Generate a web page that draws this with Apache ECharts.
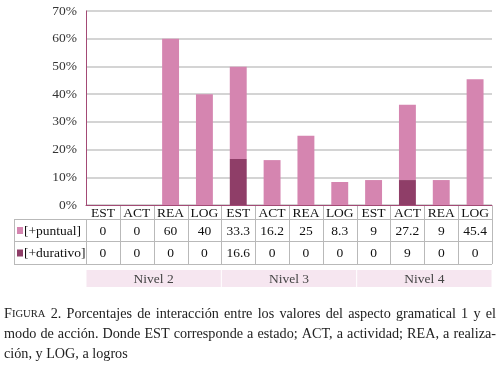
<!DOCTYPE html>
<html>
<head>
<meta charset="utf-8">
<script src="https://cdn.jsdelivr.net/npm/echarts@6/dist/echarts.min.js"></script>
<style>
html,body{margin:0;padding:0;background:#fff;}
#chart{width:500px;height:365px;}
</style>
</head>
<body>
<div id="chart"></div>
<script>
const categories = ['EST','ACT','REA','LOG','EST','ACT','REA','LOG','EST','ACT','REA','LOG'];
const seriesNames = ['[+puntual]','[+durativo]'];
const puntual = [0,0,60,40,33.3,16.2,25,8.3,9,27.2,9,45.4];
const durativo = [0,0,0,0,16.6,0,0,0,0,9,0,0];
const levels = ['Nivel 2','Nivel 3','Nivel 4'];
const yTicks = [0,10,20,30,40,50,60,70];
const captionLines = [
  {text:'FIGURA 2. Porcentajes de interacción entre los valores del aspecto gramatical 1 y el', justify:true},
  {text:'modo de acción. Donde EST corresponde a estado; ACT, a actividad; REA, a realiza-', justify:true},
  {text:'ción, y LOG, a logros', justify:false}
];

const FONT = 'Liberation Serif';
const C_PUNT = '#d585b0';
const C_DUR = '#8f3e68';
const C_AXIS = '#a34a75';
const C_TAB = '#b9b9b9';

const chart = echarts.init(document.getElementById('chart'), null, {renderer:'canvas'});
const option = {
  animation:false,
  backgroundColor:'#fff',
  textStyle:{fontFamily:FONT},
  grid:{left:86,right:8,top:11,bottom:160,containLabel:false},
  xAxis:{
    type:'category', data:categories,
    axisLine:{show:true,lineStyle:{color:C_AXIS,width:1}},
    axisTick:{show:false}, axisLabel:{show:false}
  },
  yAxis:{
    type:'value', min:yTicks[0], max:yTicks[yTicks.length-1], interval:10,
    axisLine:{show:true,lineStyle:{color:C_AXIS,width:1}},
    axisTick:{show:false},
    axisLabel:{formatter:function(v){return '{t|'+v+'%}';}, margin:9,
      rich:{t:{fontFamily:FONT, fontSize:13.5, color:'#333'}}},
    splitLine:{show:true,lineStyle:{color:'#c6c6c6',width:1.5}}
  },
  series:[
    {name:seriesNames[1], type:'bar', stack:'s', data:durativo, barWidth:'50%', itemStyle:{color:C_DUR}},
    {name:seriesNames[0], type:'bar', stack:'s', data:puntual, barWidth:'50%', itemStyle:{color:C_PUNT}}
  ]
};
chart.setOption(option);

const x0 = chart.convertToPixel({xAxisIndex:0}, 0);
const x1 = chart.convertToPixel({xAxisIndex:0}, 1);
const cw = x1 - x0;
const left = x0 - cw/2;
const right = left + cw*categories.length;
const yAxisPix = chart.convertToPixel({yAxisIndex:0}, 0);
const rowCatTop = yAxisPix, rowPTop = yAxisPix+14, rowDTop = yAxisPix+36, rowBottom = yAxisPix+59;
const legendLeft = 14;
const g = [];
function line(x1,y1,x2,y2,color){
  g.push({type:'line',shape:{x1:x1,y1:y1,x2:x2,y2:y2},style:{stroke:color||C_TAB,lineWidth:1},z:10});
}
function txt(x,y,t,opts){
  const o = Object.assign({fill:'#111',size:13.5,align:'center'},opts||{});
  g.push({type:'text',x:x,y:y,z:11,style:{text:'{t|'+t+'}',align:o.align,verticalAlign:'middle',
    rich:{t:{fontFamily:FONT,fontSize:o.size,fill:o.fill}}}});
}
const bandTop = rowBottom+6, bandBot = rowBottom+23;
levels.forEach((lv,k)=>{
  const a = left + cw*4*k, b = left + cw*4*(k+1);
  g.push({type:'rect',shape:{x:a+0.5,y:bandTop,width:b-a-1,height:bandBot-bandTop},style:{fill:'#f6e6f0'},z:5});
  txt((a+b)/2,(bandTop+bandBot)/2+1,lv,{fill:'#444'});
});
line(legendLeft,rowPTop+0.5,right,rowPTop+0.5);
line(legendLeft,rowDTop+0.5,right,rowDTop+0.5);
line(legendLeft,rowBottom+0.5,right,rowBottom+0.5);
line(legendLeft+0.5,rowPTop,legendLeft+0.5,rowBottom);
for(let i=0;i<=categories.length;i++){
  const x = Math.round(left+cw*i)+0.5;
  line(x, i===0?rowPTop:rowCatTop+1, x, rowBottom);
}
categories.forEach((c,i)=>{
  const cx = left+cw*(i+0.5);
  txt(cx,(rowCatTop+rowPTop)/2+1,c);
  txt(cx,(rowPTop+rowDTop)/2+1,String(puntual[i]));
  txt(cx,(rowDTop+rowBottom)/2+1,String(durativo[i]));
});
g.push({type:'rect',shape:{x:legendLeft+3,y:(rowPTop+rowDTop)/2-3,width:6,height:7},style:{fill:C_PUNT},z:11});
g.push({type:'rect',shape:{x:legendLeft+3,y:(rowDTop+rowBottom)/2-3,width:6,height:7},style:{fill:C_DUR},z:11});
txt(legendLeft+10,(rowPTop+rowDTop)/2+1,seriesNames[0],{align:'left'});
txt(legendLeft+10,(rowDTop+rowBottom)/2+1,seriesNames[1],{align:'left'});

const CAP_SIZE = 14.2, SC_SIZE = 10.6;
const ctx = document.createElement('canvas').getContext('2d');
function w(s,size){ ctx.font = size+'px '+FONT; return ctx.measureText(s).width; }
const capL = 4, capR = 496;
captionLines.forEach((ln,k)=>{
  const y = 314 + k*20;
  const words = ln.text.split(' ');
  const widths = words.map((wd,j)=>{
    if(k===0 && j===0){ return w('F',CAP_SIZE)+w('IGURA',SC_SIZE); }
    return w(wd,CAP_SIZE);
  });
  const total = widths.reduce((a,b)=>a+b,0);
  const gap = ln.justify ? (capR-capL-total)/(words.length-1) : w(' ',CAP_SIZE);
  let x = capL;
  words.forEach((wd,j)=>{
    let text;
    if(k===0 && j===0) text = '{a|F}{b|IGURA}';
    else text = '{a|'+wd+'}';
    g.push({type:'text',x:x,y:y,z:11,style:{text:text,align:'left',verticalAlign:'middle',
      rich:{a:{fontFamily:FONT,fontSize:CAP_SIZE,fill:'#222'},b:{fontFamily:FONT,fontSize:SC_SIZE,fill:'#222'}}}});
    x += widths[j] + gap;
  });
});
chart.setOption({graphic:g});
</script>
</body>
</html>
